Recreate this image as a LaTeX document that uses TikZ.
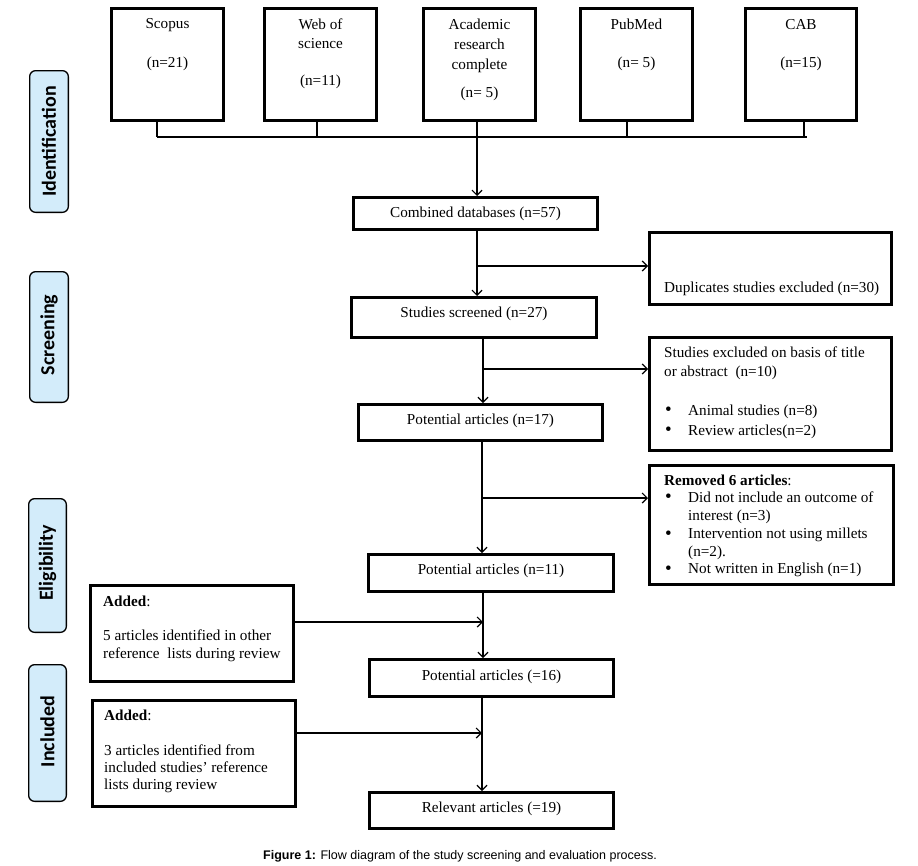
\documentclass[tikz,border=0pt]{standalone}
\usepackage{fontspec}
\setmainfont{Liberation Serif}
\newfontfamily\capfont{Liberation Sans}
\newfontfamily\labfont{Carlito}
\usetikzlibrary{arrows.meta}
\definecolor{labblue}{RGB}{211,236,250}
\newcommand{\bigbul}{\makebox[24pt][l]{\hspace*{1pt}{\fontsize{19}{18}\selectfont\raisebox{-0.5pt}{\textbullet}}}}
\begin{document}
\begin{tikzpicture}[x=1pt,y=-1pt,
  every node/.style={font=\fontsize{15.2}{18}\selectfont},
  box/.style={draw, line width=2.6pt, inner sep=0pt},
  lab/.style={draw, line width=1.3pt, fill=labblue, rounded corners=6pt, inner sep=0pt},
  labtxt/.style={rotate=90, inner sep=0pt, font=\labfont\bfseries\fontsize{20}{22}\selectfont},
  txt/.style={anchor=base, inner sep=0pt},
  ltxt/.style={anchor=base west, inner sep=0pt},
  conn/.style={line width=1.2pt},
  arr/.style={conn, -{Straight Barb[length=5pt,width=10pt]}}]
\useasboundingbox (0,0) rectangle (918,865);
\fill[white] (0,0) rectangle (918,865);

% side labels
\node[lab, minimum width=38.7pt, minimum height=141.7pt] (lident) at (49,141.5) {};
\node[labtxt] (tident) at (49,141.5) {Identification};
\node[lab, minimum width=38.7pt, minimum height=130.7pt] (lscreen) at (49,337) {};
\node[labtxt] (tscreen) at (49,335) {Screening};
\node[lab, minimum width=37.7pt, minimum height=133.7pt] (lelig) at (47.5,565.5) {};
\node[labtxt] (telig) at (47.5,563) {Eligibility};
\node[lab, minimum width=37.7pt, minimum height=136.7pt] (lincl) at (47.5,733) {};
\node[labtxt] (tincl) at (47.5,731.5) {Included};

% top database boxes
\node[box, minimum width=112.4pt, minimum height=112.4pt] (scopus) at (167.5,64.5) {};
\node[txt] (scopus1) at (167.5,28.3) {Scopus};
\node[txt] (scopus2) at (167.5,67.3) {(n=21)};
\node[box, minimum width=112.4pt, minimum height=112.4pt] (web) at (320.5,64.5) {};
\node[txt] (web1) at (320.5,29) {Web of};
\node[txt] (web2) at (320.5,48.3) {science};
\node[txt] (web3) at (320.5,85.7) {(n=11)};
\node[box, minimum width=112.4pt, minimum height=112.4pt] (acad) at (479.5,64.5) {};
\node[txt] (acad1) at (479.5,29.7) {Academic};
\node[txt] (acad2) at (479.5,49) {research};
\node[txt] (acad3) at (479.5,69) {complete};
\node[txt] (acad4) at (479.5,97.3) {(n= 5)};
\node[box, minimum width=112.4pt, minimum height=112.4pt] (pub) at (636.5,64.5) {};
\node[txt] (pub1) at (636.5,29) {PubMed};
\node[txt] (pub2) at (636.5,67.3) {(n= 5)};
\node[box, minimum width=111.4pt, minimum height=112.4pt] (cab) at (801,64.5) {};
\node[txt] (cab1) at (801,29) {CAB};
\node[txt] (cab2) at (801,67.3) {(n=15)};

% main flow boxes
\node[box, minimum width=244.4pt, minimum height=32.4pt] (comb) at (475.5,213.5) {};
\node[txt] (comb1) at (475.5,217.5) {Combined databases (n=57)};
\node[box, minimum width=245.4pt, minimum height=40.4pt] (scr) at (474,317.5) {};
\node[txt] (scr1) at (474,317.5) {Studies screened (n=27)};
\node[box, minimum width=244.4pt, minimum height=36.4pt] (pot17) at (480.5,422.5) {};
\node[txt] (pot17t) at (480.5,424.5) {Potential articles (n=17)};
\node[box, minimum width=245.4pt, minimum height=37.4pt] (pot11) at (491,573) {};
\node[txt] (pot11t) at (491,574.5) {Potential articles (n=11)};
\node[box, minimum width=244.4pt, minimum height=37.4pt] (pot16) at (491.5,678) {};
\node[txt] (pot16t) at (491.5,680.5) {Potential articles (=16)};
\node[box, minimum width=244.4pt, minimum height=36.4pt] (rel) at (491.5,810.5) {};
\node[txt] (relt) at (491.5,812.8) {Relevant articles (=19)};

% exclusion boxes
\node[box, minimum width=242.4pt, minimum height=72.4pt] (dup) at (770.5,268.5) {};
\node[ltxt] (dup1) at (664,292.5) {Duplicates studies excluded (n=30)};
\node[box, minimum width=242.4pt, minimum height=113.4pt] (excl) at (770.5,394) {};
\node[ltxt] (excl1) at (664,357) {Studies excluded on basis of title};
\node[ltxt] (excl2) at (664,376) {or abstract\ \ (n=10)};
\node[ltxt] (excl3) at (664,415) {\bigbul Animal studies (n=8)};
\node[ltxt] (excl4) at (664,435) {\bigbul Review articles(n=2)};
\node[box, minimum width=244.4pt, minimum height=119.4pt] (rem) at (771.5,525) {};
\node[ltxt] (rem1) at (664,485.5) {\textbf{Removed 6 articles}:};
\node[ltxt] (rem2) at (664,502) {\bigbul Did not include an outcome of};
\node[ltxt] (rem3) at (688,520) {interest (n=3)};
\node[ltxt] (rem4) at (664,538.5) {\bigbul Intervention not using millets};
\node[ltxt] (rem5) at (688,556) {(n=2).};
\node[ltxt] (rem6) at (664,573.5) {\bigbul Not written in English (n=1)};

% added boxes
\node[box, minimum width=203.4pt, minimum height=96.4pt] (add1) at (192,633.5) {};
\node[ltxt] (add1a) at (103,606) {\textbf{Added}:};
\node[ltxt] (add1b) at (103,640.5) {5 articles identified in other};
\node[ltxt] (add1c) at (103,658.5) {reference\ \ lists during review};
\node[box, minimum width=203.4pt, minimum height=106.4pt] (add2) at (194,753.5) {};
\node[ltxt] (add2a) at (104,720.5) {\textbf{Added}:};
\node[ltxt] (add2b) at (104,755) {3 articles identified from};
\node[ltxt] (add2c) at (104,772) {included studies’ reference};
\node[ltxt] (add2d) at (104,789.5) {lists during review};

% connectors
\coordinate (bS) at (157,137);
\coordinate (bW) at (317,137);
\coordinate (j0) at (477,137);
\coordinate (bP) at (627,137);
\coordinate (bC) at (804,137);
\coordinate (bE) at (807,137);
\draw[conn] (scopus.south -| bS) -- (bS);
\draw[conn] (web.south -| bW) -- (bW);
\draw[conn] (pub.south -| bP) -- (bP);
\draw[conn] (cab.south -| bC) -- (bC);
\draw[conn] (bS) -- (bE);
\draw[arr] (acad.south -| j0) -- (comb.north -| j0);

\coordinate (j1) at (477,266);
\draw[arr] (comb.south -| j1) -- (scr.north -| j1);
\draw[arr] (j1) -- (dup.west |- j1);

\coordinate (j2) at (483,369);
\draw[arr] (scr.south -| j2) -- (pot17.north -| j2);
\draw[arr] (j2) -- (excl.west |- j2);

\coordinate (j3) at (482,498);
\draw[arr] (pot17.south -| j3) -- (pot11.north -| j3);
\draw[arr] (j3) -- (rem.west |- j3);

\coordinate (j4) at (483,622);
\draw[arr] (pot11.south -| j4) -- (pot16.north -| j4);
\draw[arr] (add1.east |- j4) -- (j4);

\coordinate (j5) at (482,733);
\draw[arr] (pot16.south -| j5) -- (rel.north -| j5);
\draw[arr] (add2.east |- j5) -- (j5);

% caption
\node[anchor=base, inner sep=0pt, font=\capfont\fontsize{12.5}{15}\selectfont] (cap) at (460,859.5) {\textbf{Figure 1:} Flow diagram of the study screening and evaluation process.};
\end{tikzpicture}
\end{document}
